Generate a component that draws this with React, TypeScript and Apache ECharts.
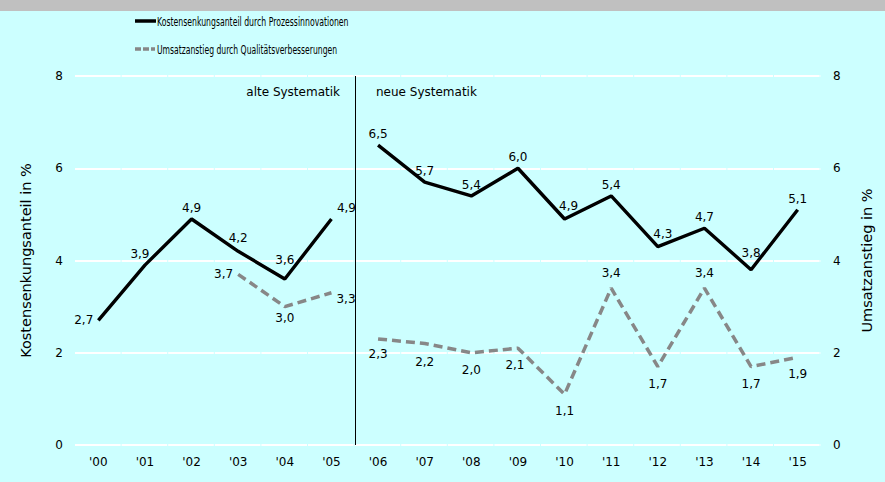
import React, { useEffect, useRef } from "react";
import * as echarts from "echarts";

const years = ["'00", "'01", "'02", "'03", "'04", "'05", "'06", "'07", "'08", "'09", "'10", "'11", "'12", "'13", "'14", "'15"];
const kostenAlt: (number | null)[] = [2.7, 3.9, 4.9, 4.2, 3.6, 4.9, null, null, null, null, null, null, null, null, null, null];
const kostenNeu: (number | null)[] = [null, null, null, null, null, null, 6.5, 5.7, 5.4, 6.0, 4.9, 5.4, 4.3, 4.7, 3.8, 5.1];
const umsatzAlt: (number | null)[] = [null, null, null, 3.7, 3.0, 3.3, null, null, null, null, null, null, null, null, null, null];
const umsatzNeu: (number | null)[] = [null, null, null, null, null, null, 2.3, 2.2, 2.0, 2.1, 1.1, 3.4, 1.7, 3.4, 1.7, 1.9];
const breakPosition = 5.5; // between '05 and '06

const nameK = "Kostensenkungsanteil durch Prozessinnovationen";
const nameU = "Umsatzanstieg durch Qualitätsverbesserungen";

// label placement per category (style only)
const kostenLabelPos: any[] = [
  { position: "left" }, { position: "top", offset: [-5, 0] }, { position: "top" }, { position: "top", offset: [0, -2] },
  { position: "top", offset: [0, -8] }, { position: "top", offset: [15, 0] },
  { position: "top" }, { position: "top" }, { position: "top" }, { position: "top" }, { position: "top", offset: [4, -2] },
  { position: "top" }, { position: "top", offset: [5, -2] }, { position: "top" }, { position: "top", offset: [0, -6] }, { position: "top" },
];
const umsatzLabelPos: any[] = [
  {}, {}, {}, { position: "left" }, { position: "bottom" }, { position: "right", offset: [0, 6] },
  { position: "bottom", offset: [0, 4] }, { position: "bottom", offset: [0, 7] }, { position: "bottom", offset: [0, 6] },
  { position: "bottom", offset: [-3, 6] }, { position: "bottom", offset: [0, 6] }, { position: "top", offset: [0, -4] },
  { position: "bottom", offset: [0, 6] }, { position: "top", offset: [0, -4] }, { position: "bottom", offset: [0, 6] },
  { position: "bottom", offset: [0, 6] },
];

const FONT = "DejaVu Sans, Verdana, sans-serif";
const fmt = (p: any) => (p.value == null ? "" : Number(p.value).toFixed(1).replace(".", ","));

function build(vals: (number | null)[], pos: any[]) {
  return vals.map((v, i) => ({ value: v, label: { ...pos[i] } }));
}

function measure(text: string, font: string) {
  const c = document.createElement("canvas").getContext("2d")!;
  c.font = font;
  return c.measureText(text).width;
}

export default function App() {
  const ref = useRef<HTMLDivElement>(null);
  useEffect(() => {
    document.body.style.margin = "0";
    const chart = echarts.init(ref.current!, undefined, { renderer: "svg" });
    const blackLine = { color: "#000000", width: 3.4 };
    const greyLine = { color: "#878787", width: 3.5, type: [9, 5] as any };
    const labelBase = { show: true, formatter: fmt, color: "#000", fontFamily: FONT, fontSize: 12, distance: 5 };
    const legFont = "12px DejaVu Sans";
    const sK = 184 / measure(nameK, legFont);
    const sU = 173 / measure(nameU, legFont);
    chart.setOption({
      animation: false,
      backgroundColor: "#ccffff",
      graphic: [
        { type: "rect", left: 0, top: 0, shape: { width: 885, height: 11 }, style: { fill: "#c0c0c0" }, silent: true },
        { type: "text", x: 340, y: 92, style: { text: "alte Systematik", align: "right", verticalAlign: "middle", fontFamily: FONT, fontSize: 12, fill: "#000" } },
        { type: "text", x: 376, y: 92, style: { text: "neue Systematik", align: "left", verticalAlign: "middle", fontFamily: FONT, fontSize: 12, fill: "#000" } },
        { type: "line", shape: { x1: 135, y1: 21, x2: 156, y2: 21 }, style: { stroke: "#000", lineWidth: 3.5 } },
        { type: "text", x: 157, y: 21, scaleX: sK, style: { text: nameK, align: "left", verticalAlign: "middle", fontFamily: FONT, fontSize: 12.5, fill: "#000" } },
        { type: "line", shape: { x1: 135, y1: 49, x2: 155, y2: 49 }, style: { stroke: "#878787", lineWidth: 3.5, lineDash: [6, 2] } },
        { type: "text", x: 157, y: 49, scaleX: sU, style: { text: nameU, align: "left", verticalAlign: "middle", fontFamily: FONT, fontSize: 12.5, fill: "#000" } },
      ],
      grid: { left: 75, right: 64, top: 76, bottom: 37 },
      xAxis: [
        {
          type: "category",
          data: years,
          boundaryGap: true,
          axisLine: { show: false },
          axisTick: { show: false },
          axisLabel: { color: "#000", fontFamily: FONT, fontSize: 12, margin: 11 },
          splitLine: { show: false },
        },
        { type: "value", min: -0.5, max: 15.5, show: false },
      ],
      yAxis: [
        {
          type: "value",
          min: 0,
          max: 8,
          interval: 2,
          name: "Kostensenkungsanteil in %",
          nameLocation: "middle",
          nameGap: 42,
          nameTextStyle: { color: "#000", fontFamily: FONT, fontSize: 14.5 },
          axisLine: { show: false },
          axisTick: { show: false },
          axisLabel: { color: "#000", fontFamily: FONT, fontSize: 12, margin: 12 },
          splitLine: { show: true, lineStyle: { color: "#ffffff", width: 2, type: [45.6, 1.0] } },
        },
        {
          type: "value",
          min: 0,
          max: 8,
          interval: 2,
          position: "right",
          name: "Umsatzanstieg in %",
          nameLocation: "middle",
          nameRotate: 90,
          nameGap: 38,
          nameTextStyle: { color: "#000", fontFamily: FONT, fontSize: 14.5 },
          axisLine: { show: false },
          axisTick: { show: false },
          axisLabel: { color: "#000", fontFamily: FONT, fontSize: 12, margin: 12 },
          splitLine: { show: false },
        },
      ],
      series: [
        { name: nameK, type: "line", yAxisIndex: 0, symbol: "circle", symbolSize: 0, data: build(kostenAlt, kostenLabelPos), lineStyle: blackLine, itemStyle: { color: "#000" }, label: labelBase },
        { name: nameK, type: "line", yAxisIndex: 0, symbol: "circle", symbolSize: 0, data: build(kostenNeu, kostenLabelPos), lineStyle: blackLine, itemStyle: { color: "#000" }, label: labelBase },
        { name: nameU, type: "line", yAxisIndex: 1, symbol: "circle", symbolSize: 0, data: build(umsatzAlt, umsatzLabelPos), lineStyle: greyLine, itemStyle: { color: "#878787" }, label: labelBase },
        { name: nameU, type: "line", yAxisIndex: 1, symbol: "circle", symbolSize: 0, data: build(umsatzNeu, umsatzLabelPos), lineStyle: greyLine, itemStyle: { color: "#878787" }, label: labelBase },
        {
          name: "Systematikwechsel", type: "line", xAxisIndex: 1, yAxisIndex: 0, data: [], symbol: "none",
          markLine: {
            silent: true, symbol: "none", label: { show: false },
            lineStyle: { color: "#000", width: 1, type: "solid" },
            data: [{ xAxis: breakPosition }],
          },
        },
      ],
    });
    return () => chart.dispose();
  }, []);
  return <div ref={ref} style={{ width: 885, height: 482 }} />;
}
